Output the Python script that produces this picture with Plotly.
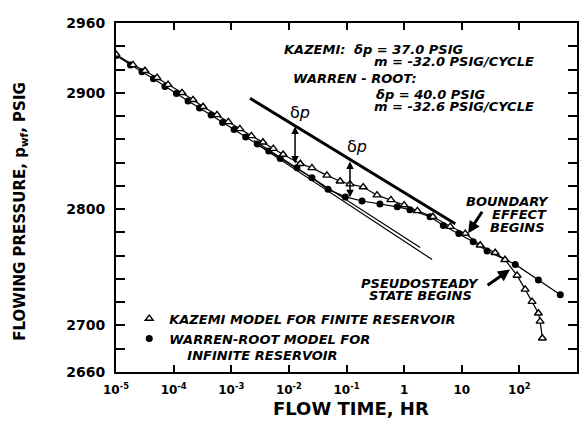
import math
import plotly.graph_objects as go

# ---------------- data ----------------
kazemi_t = [1.0e-5, 1.97e-5, 3.18e-5, 5.15e-5, 8.0e-5, 1.40e-4, 2.17e-4, 3.24e-4, 5.66e-4,
            8.9e-4, 1.41e-3, 2.24e-3, 3.55e-3, 5.37e-3, 7.94e-3, 1.58e-2, 2.51e-2, 4.57e-2,
            7.76e-2, 0.115, 0.195, 0.339, 0.589, 1.0, 1.70, 3.16, 6.31, 11.5, 20.9, 38.0,
            56.2, 91.2, 126, 166, 214, 229, 251]
kazemi_p = [2933, 2924, 2919, 2913, 2907, 2900, 2894, 2888, 2881,
            2875, 2869, 2863, 2857.5, 2852, 2847, 2839, 2835.5, 2829,
            2824, 2821.5, 2819, 2812, 2808, 2803.5, 2798.5, 2793.5, 2785, 2779, 2769, 2762.5,
            2756.5, 2743, 2731, 2720.5, 2710.5, 2703.5, 2689]

wr_t = [1.0e-5, 1.78e-5, 2.82e-5, 4.47e-5, 7.08e-5, 1.12e-4, 1.78e-4, 2.82e-4, 4.47e-4,
        7.08e-4, 1.12e-3, 1.78e-3, 2.82e-3, 4.47e-3, 7.08e-3, 1.38e-2, 2.51e-2, 4.79e-2,
        9.55e-2, 0.186, 0.380, 0.759, 1.26, 2.82, 4.79, 8.9, 15.8, 27.5, 85, 214, 513]
wr_p = [2932, 2924, 2918, 2912, 2905.5, 2899.5, 2893, 2887, 2881,
        2874.5, 2868.5, 2862, 2856, 2850, 2843.5, 2835.5, 2827, 2817,
        2810.5, 2807, 2804.5, 2802, 2799.5, 2793.5, 2786, 2779, 2772, 2764, 2752.5, 2739, 2726.5]

# straight semilog lines
late_line_t = [2.12e-3, 7.7]
late_line_p = [2895.3, 2787.5]
kazemi_line_t = [2.5e-3, 1.9]
kazemi_line_p = [2859.1, 2767.0]
wr_line_t = [2.5e-3, 3.06]
wr_line_p = [2857.3, 2756.7]

# delta-p markers: (time, top pressure, bottom pressure)
dp_t = [0.0128, 0.115]
dp_top = [2871, 2841]
dp_bot = [2838, 2809]

x_tickvals = [1e-5, 1e-4, 1e-3, 1e-2, 1e-1, 1, 10, 100, 1000]
x_ticktext = ["10<sup>-5</sup>", "10<sup>-4</sup>", "10<sup>-3</sup>", "10<sup>-2</sup>",
              "10<sup>-1</sup>", "1", "10", "10<sup>2</sup>", "10<sup>3</sup>"]
y_tickvals = [2660, 2680, 2700, 2720, 2740, 2760, 2780, 2800, 2820, 2840, 2860, 2880,
              2900, 2920, 2940, 2960]
y_labeled = [2660, 2700, 2800, 2900, 2960]

# ---------------- figure ----------------
FONT = "DejaVu Sans"
fig = go.Figure()

line_style = dict(color="black", width=1.2)
fig.add_trace(go.Scatter(x=wr_t, y=wr_p, mode="lines", line=line_style, showlegend=False,
                         hoverinfo="skip"))
fig.add_trace(go.Scatter(x=kazemi_t, y=kazemi_p, mode="lines", line=line_style, showlegend=False,
                         hoverinfo="skip"))
fig.add_trace(go.Scatter(x=late_line_t, y=late_line_p, mode="lines",
                         line=dict(color="black", width=3), showlegend=False))
fig.add_trace(go.Scatter(x=kazemi_line_t, y=kazemi_line_p, mode="lines",
                         line=dict(color="black", width=1.2), showlegend=False))
fig.add_trace(go.Scatter(x=wr_line_t, y=wr_line_p, mode="lines",
                         line=dict(color="black", width=1.2), showlegend=False))

fig.add_trace(go.Scatter(x=wr_t, y=wr_p, mode="markers",
                         name="WARREN-ROOT MODEL FOR<br>\u00a0\u00a0\u00a0\u00a0INFINITE RESERVOIR",
                         marker=dict(symbol="circle", size=7, color="black"),
                         legendrank=2))
fig.add_trace(go.Scatter(x=kazemi_t, y=kazemi_p, mode="markers",
                         name="KAZEMI MODEL FOR FINITE RESERVOIR",
                         marker=dict(symbol="triangle-up", size=7, color="white",
                                     line=dict(color="black", width=1.4)),
                         legendrank=1))

annotations = []
# delta p double arrows
for t, top, bot in zip(dp_t, dp_top, dp_bot):
    annotations.append(dict(x=math.log10(t), y=top, ax=math.log10(t), ay=bot,
                            xref="x", yref="y", axref="x", ayref="y", text="",
                            showarrow=True, arrowhead=2, arrowside="end+start",
                            arrowsize=1, arrowwidth=1.5, arrowcolor="black"))
annotations.append(dict(x=math.log10(0.0157), y=2883, xref="x", yref="y", text="δ<i>p</i>",
                        xanchor="center", yanchor="middle",
                        showarrow=False, font=dict(family=FONT, size=16, color="black")))
annotations.append(dict(x=math.log10(0.153), y=2854, xref="x", yref="y", text="δ<i>p</i>",
                        xanchor="center", yanchor="middle",
                        showarrow=False, font=dict(family=FONT, size=16, color="black")))

tfont = dict(family=FONT, size=13, color="black", weight="bold", style="italic")

# plot area in the screenshot spans x 116..577, y 15..372
def ptxt(text, px, py, anchor="left"):
    annotations.append(dict(x=(px - 116) / 461, y=(372 - py) / 357, xref="paper", yref="paper",
                            text=text, showarrow=False, xanchor=anchor, yanchor="middle",
                            font=tfont))


ptxt("KAZEMI:", 347, 42, "right")
ptxt("δp = 37.0 PSIG", 352, 42)
ptxt("m = -32.0 PSIG/CYCLE", 372, 54)
ptxt("WARREN - ROOT:", 291, 72)
ptxt("δp = 40.0 PSIG", 374, 88)
ptxt("m = -32.6 PSIG/CYCLE", 372, 100)
ptxt("BOUNDARY", 551, 198, "right")
ptxt("EFFECT", 549, 211, "right")
ptxt("BEGINS", 547, 224, "right")
ptxt("PSEUDOSTEADY", 481, 281, "right")
ptxt("STATE BEGINS", 474, 294, "right")

# wedge arrows
annotations.append(dict(x=math.log10(12.9), y=2779.3, xref="x", yref="y", text="",
                        showarrow=True, ax=15, ay=-23, arrowhead=2, arrowsize=0.8,
                        arrowwidth=3, arrowcolor="black", standoff=0))
annotations.append(dict(x=math.log10(69), y=2748.2, xref="x", yref="y", text="",
                        showarrow=True, ax=-24, ay=17, arrowhead=2, arrowsize=0.8,
                        arrowwidth=3, arrowcolor="black", standoff=0))

# axis titles
annotations.append(dict(x=(21 - 116) / 461, y=(372 - 208) / 357, xref="paper", yref="paper",
                        xanchor="center", yanchor="middle",
                        text="FLOWING PRESSURE, p<sub>wf</sub>, PSIG", textangle=-90,
                        showarrow=False, font=dict(family=FONT, size=15, color="black", weight="bold")))
annotations.append(dict(x=(351 - 116) / 461, y=(372 - 409) / 357, xref="paper", yref="paper",
                        xanchor="center", yanchor="middle",
                        text="FLOW TIME, HR", showarrow=False,
                        font=dict(family=FONT, size=18, color="black", weight="bold")))

axis_common = dict(showgrid=False, zeroline=False, showline=True, linecolor="black",
                   linewidth=2, mirror="ticks", ticks="inside", tickcolor="black",
                   tickwidth=1.5)

# the page body adds an 8px offset, so the figure is 8px smaller and margins shifted
fig.update_layout(
    width=579, height=415,
    margin=dict(l=108, r=10, t=7, b=51),
    paper_bgcolor="white", plot_bgcolor="white",
    showlegend=True,
    legend=dict(x=0.0287, y=0.196, xanchor="left", yanchor="top", bgcolor="rgba(0,0,0,0)",
                font=dict(family=FONT, size=13, color="black", weight="bold", style="italic"),
                tracegroupgap=0, itemwidth=30, valign="top"),
    xaxis=dict(type="log", range=[-5, 3], tickvals=x_tickvals, ticktext=x_ticktext,
               ticklen=7, ticklabelstandoff=6,
               tickfont=dict(family=FONT, size=12, color="black", weight="bold"),
               **axis_common),
    yaxis=dict(range=[2660, 2960], tickvals=y_tickvals,
               ticktext=[str(v) if v in y_labeled else "" for v in y_tickvals],
               ticklen=9, ticklabelstandoff=6,
               tickfont=dict(family=FONT, size=14, color="black", weight="bold"),
               **axis_common),
    annotations=annotations,
)

fig.write_html("out.html")
